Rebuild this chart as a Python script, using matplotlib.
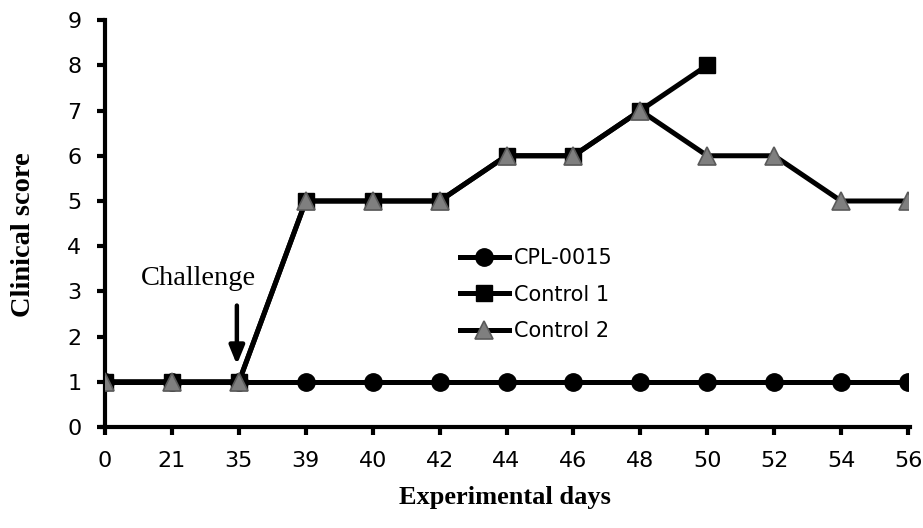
import matplotlib
matplotlib.use("Agg")
import matplotlib.pyplot as plt

days = ["0", "21", "35", "39", "40", "42", "44", "46", "48", "50", "52", "54", "56"]
cpl0015 = [1, 1, 1, 1, 1, 1, 1, 1, 1, 1, 1, 1, 1]
control1 = [1, 1, 1, 5, 5, 5, 6, 6, 7, 8]
control2 = [1, 1, 1, 5, 5, 5, 6, 6, 7, 6, 6, 5, 5]
yticks = list(range(0, 10))

fig = plt.figure(figsize=(9.23, 5.28), dpi=100)
ax = fig.add_axes([0.1138, 0.191, 0.8700, 0.771])

x_all = list(range(len(days)))
ax.plot(x_all, cpl0015, color="black", lw=3.6, marker="o", ms=12.5,
        mfc="black", mec="black", label="CPL-0015", zorder=3)
ax.plot(x_all[:len(control1)], control1, color="black", lw=3.6, marker="s", ms=12,
        mfc="black", mec="black", label="Control 1", zorder=4)
ax.plot(x_all, control2, color="black", lw=3.6, marker="^", ms=12.5,
        mfc="#7f7f7f", mec="#5a5a5a", mew=1.2, label="Control 2", zorder=5)

ax.set_xlim(0, len(days) - 1)
ax.set_ylim(0, 9)
ax.set_xticks(x_all)
ax.set_xticklabels(days)
ax.set_yticks(yticks)
for s in ["top", "right"]:
    ax.spines[s].set_visible(False)
for s in ["left", "bottom"]:
    ax.spines[s].set_linewidth(3.0)
ax.spines["bottom"].set_bounds(-0.05, len(days) - 1 + 0.03)
ax.tick_params(axis="both", which="major", width=3.0, length=6, labelsize=16,
               direction="out")
for lab in ax.get_xticklabels() + ax.get_yticklabels():
    lab.set_family("DejaVu Sans")
ax.tick_params(axis="x", pad=11)
ax.tick_params(axis="y", pad=11)

ax.set_ylabel("Clinical score", family="Liberation Serif", fontweight="bold",
              fontsize=20.5)
ax.yaxis.set_label_coords(-0.086, 0.474)
fig.text(0.547, 0.058, "Experimental days", family="Liberation Serif",
         fontweight="bold", fontsize=19, ha="center", va="center")

ax.annotate("", xy=(1.97, 1.32), xytext=(1.97, 2.75),
            arrowprops=dict(arrowstyle="-|>,head_width=0.45,head_length=1.1",
                            color="black", lw=3.2))
ax.text(1.4, 3.28, "Challenge", family="Liberation Serif", fontsize=20.5,
        ha="center", va="center")

leg = ax.legend(loc="upper left", bbox_to_anchor=(0.4315, 0.46), frameon=False,
                fontsize=15, handlelength=2.35, handletextpad=0.25,
                labelspacing=0.79, borderaxespad=0)
for t in leg.get_texts():
    t.set_family("DejaVu Sans")

fig.savefig("out.png", dpi=100)
